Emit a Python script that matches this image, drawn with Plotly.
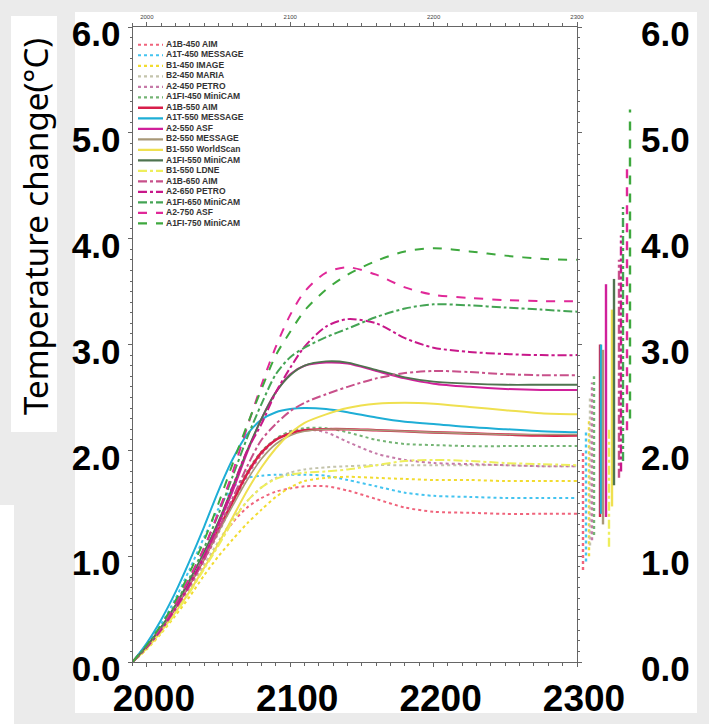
import plotly.graph_objects as go

W, H = 709, 724

# ---------------- data ----------------
years = [1990, 2000, 2010, 2020, 2030, 2040, 2050, 2060, 2070, 2080, 2090, 2100,
         2110, 2125, 2140, 2160, 2180, 2200, 2225, 2250, 2275, 2300]

names = ["A1B-450 AIM", "A1T-450 MESSAGE", "B1-450 IMAGE", "B2-450 MARIA", "A2-450 PETRO",
         "A1FI-450 MiniCAM", "A1B-550 AIM", "A1T-550 MESSAGE", "A2-550 ASF", "B2-550 MESSAGE",
         "B1-550 WorldScan", "A1FI-550 MiniCAM", "B1-550 LDNE", "A1B-650 AIM", "A2-650 PETRO",
         "A1FI-650 MiniCAM", "A2-750 ASF", "A1FI-750 MiniCAM"]

a1b_450 = [0, 0.14, 0.30, 0.48, 0.68, 0.90, 1.12, 1.32, 1.46, 1.55, 1.61, 1.64, 1.66, 1.66, 1.62, 1.54, 1.46, 1.42, 1.41, 1.40, 1.40, 1.40]
a1t_450 = [0, 0.17, 0.36, 0.60, 0.88, 1.18, 1.45, 1.65, 1.74, 1.76, 1.77, 1.77, 1.77, 1.76, 1.72, 1.66, 1.60, 1.57, 1.56, 1.55, 1.55, 1.55]
b1_450 = [0, 0.12, 0.27, 0.44, 0.62, 0.82, 1.00, 1.16, 1.31, 1.44, 1.56, 1.65, 1.71, 1.74, 1.75, 1.74, 1.73, 1.72, 1.72, 1.71, 1.71, 1.71]
b2_450 = [0, 0.14, 0.30, 0.49, 0.70, 0.92, 1.14, 1.35, 1.52, 1.65, 1.74, 1.79, 1.82, 1.84, 1.85, 1.86, 1.86, 1.86, 1.86, 1.86, 1.85, 1.85]
a2_450 = [0, 0.14, 0.30, 0.50, 0.72, 0.96, 1.22, 1.50, 1.76, 1.96, 2.10, 2.18, 2.20, 2.17, 2.08, 1.97, 1.91, 1.88, 1.87, 1.86, 1.85, 1.85]
a1fi_450 = [0, 0.15, 0.32, 0.53, 0.76, 1.00, 1.27, 1.55, 1.80, 1.99, 2.11, 2.18, 2.21, 2.21, 2.17, 2.10, 2.06, 2.05, 2.04, 2.04, 2.04, 2.04]
a1b_550 = [0, 0.15, 0.32, 0.52, 0.74, 0.98, 1.25, 1.52, 1.78, 1.98, 2.10, 2.16, 2.19, 2.20, 2.20, 2.19, 2.18, 2.17, 2.16, 2.15, 2.14, 2.14]
a1t_550 = [0, 0.18, 0.40, 0.66, 0.96, 1.28, 1.62, 1.92, 2.15, 2.29, 2.36, 2.39, 2.40, 2.39, 2.36, 2.31, 2.27, 2.25, 2.22, 2.20, 2.18, 2.17]
a2_550 = [0, 0.14, 0.31, 0.51, 0.74, 1.00, 1.30, 1.62, 1.98, 2.30, 2.55, 2.72, 2.80, 2.83, 2.82, 2.75, 2.68, 2.63, 2.60, 2.58, 2.57, 2.57]
b2_550 = [0, 0.15, 0.32, 0.52, 0.74, 0.98, 1.23, 1.48, 1.72, 1.92, 2.06, 2.14, 2.18, 2.20, 2.20, 2.19, 2.18, 2.17, 2.16, 2.15, 2.15, 2.15]
b1_550_ws = [0, 0.13, 0.29, 0.47, 0.67, 0.89, 1.12, 1.37, 1.62, 1.84, 2.02, 2.16, 2.26, 2.34, 2.40, 2.44, 2.45, 2.44, 2.41, 2.38, 2.35, 2.34]
a1fi_550 = [0, 0.15, 0.33, 0.54, 0.78, 1.04, 1.33, 1.66, 2.00, 2.30, 2.55, 2.71, 2.80, 2.84, 2.83, 2.76, 2.69, 2.65, 2.63, 2.62, 2.62, 2.62]
b1_550_ldne = [0, 0.13, 0.28, 0.46, 0.66, 0.88, 1.10, 1.33, 1.52, 1.65, 1.73, 1.77, 1.79, 1.80, 1.82, 1.86, 1.90, 1.91, 1.90, 1.88, 1.87, 1.86]
a1b_650 = [0, 0.14, 0.30, 0.50, 0.72, 0.97, 1.25, 1.55, 1.85, 2.10, 2.25, 2.37, 2.45, 2.53, 2.60, 2.68, 2.73, 2.75, 2.74, 2.72, 2.71, 2.71]
a2_650 = [0, 0.14, 0.31, 0.51, 0.74, 1.00, 1.31, 1.66, 2.00, 2.25, 2.55, 2.78, 2.98, 3.17, 3.24, 3.20, 3.06, 2.97, 2.93, 2.91, 2.90, 2.90]
a1fi_650 = [0, 0.15, 0.33, 0.55, 0.80, 1.08, 1.40, 1.76, 2.12, 2.44, 2.72, 2.88, 2.97, 3.07, 3.15, 3.26, 3.34, 3.38, 3.37, 3.35, 3.33, 3.31]
a2_750 = [0, 0.15, 0.33, 0.55, 0.80, 1.08, 1.42, 1.80, 2.22, 2.62, 2.98, 3.28, 3.50, 3.68, 3.73, 3.66, 3.54, 3.47, 3.44, 3.42, 3.41, 3.41]
a1fi_750 = [0, 0.16, 0.35, 0.58, 0.85, 1.15, 1.50, 1.88, 2.24, 2.58, 2.90, 3.12, 3.32, 3.52, 3.66, 3.79, 3.88, 3.91, 3.88, 3.84, 3.81, 3.80]

series = [a1b_450, a1t_450, b1_450, b2_450, a2_450, a1fi_450, a1b_550, a1t_550, a2_550,
          b2_550, b1_550_ws, a1fi_550, b1_550_ldne, a1b_650, a2_650, a1fi_650, a2_750, a1fi_750]

# ranges in 2300 (right-hand bars)
bar_low = [0.87, 0.95, 1.00, 1.10, 1.15, 1.20, 1.37, 1.40, 1.37, 1.30, 1.47, 1.67, 1.09, 1.74, 1.80, 1.90, 2.19, 2.30]
bar_high = [2.00, 2.18, 2.30, 2.50, 2.64, 2.70, 3.00, 3.00, 3.57, 2.95, 3.33, 3.62, 2.20, 3.80, 4.03, 4.30, 4.73, 5.22]
bar_slot = [5, 8, 11, 12, 14, 16, 22, 23, 28, 25, 34, 36, 31, 41, 43, 45, 49, 52]

y_ticks = [0, 1, 2, 3, 4, 5, 6]
y_ticktext = ["0.0", "1.0", "2.0", "3.0", "4.0", "5.0", "6.0"]
x_ticks = [2000, 2100, 2200, 2300]
x_ticktext = ["2000", "2100", "2200", "2300"]

# ---------------- styles ----------------
colors = ["#f0647c", "#44c4f0", "#f2dc30", "#c4c4ac", "#c67aa8", "#74b474",
          "#d81e4a", "#1eaed6", "#d0209a", "#a89878", "#efe050", "#4f744f",
          "#eeee5c", "#c8508a", "#c8188a", "#44a454", "#e02898", "#3ea83e"]
dashes = ["dot"] * 6 + ["solid"] * 6 + ["dashdot"] * 4 + ["dash"] * 2
widths = [2, 2, 2, 2, 2, 2, 2.6, 2, 2, 1.6, 2, 1.8, 2, 2, 2, 2, 2, 2]


def px(p):
    return p / W


def py(p):
    return 1 - p / H


fig = go.Figure()

for i, name in enumerate(names):
    fig.add_trace(go.Scatter(
        x=years, y=series[i], mode="lines", name=name,
        line=dict(color=colors[i], dash=dashes[i], width=widths[i], shape="spline", smoothing=0.8),
        xaxis="x", yaxis="y", showlegend=False))

# right-hand range bars
for i, name in enumerate(names):
    fig.add_trace(go.Scatter(
        x=[bar_slot[i], bar_slot[i]], y=[bar_low[i], bar_high[i]], mode="lines",
        line=dict(color=colors[i], dash=dashes[i], width=2.4),
        xaxis="x3", yaxis="y", showlegend=False, hoverinfo="skip"))

# compact legend drawn in its own small subplot
for i, name in enumerate(names):
    fig.add_trace(go.Scatter(
        x=[3, 28], y=[i, i], mode="lines",
        line=dict(color=colors[i], dash=dashes[i], width=2.6 if i == 6 else 2.2),
        xaxis="x4", yaxis="y4", showlegend=False, hoverinfo="skip"))
fig.add_trace(go.Scatter(
    x=[31] * len(names), y=list(range(len(names))), mode="text", text=names,
    textposition="middle right",
    textfont=dict(size=8.5, color="#333333", family="Liberation Sans", weight="bold"),
    xaxis="x4", yaxis="y4", showlegend=False, hoverinfo="skip", cliponaxis=False))

# empty traces so the label-only axes (right values, top years) are drawn
fig.add_trace(go.Scatter(x=[], y=[], xaxis="x5", yaxis="y5", showlegend=False, hoverinfo="skip"))
fig.add_trace(go.Scatter(x=[], y=[], xaxis="x6", yaxis="y6", showlegend=False, hoverinfo="skip"))

axis_col = "#666666"
big_font = dict(family="Liberation Sans", size=35, color="black", weight="bold")
main_x_dom = [px(132.5), px(577)]
main_y_dom = [py(662), py(27)]
y_range = [0, 6.0005]

fig.update_layout(
    width=W, height=H, autosize=False,
    margin=dict(l=0, r=0, t=0, b=0),
    template="none",
    paper_bgcolor="#ebebeb",
    plot_bgcolor="white",
    showlegend=False,
    # main frame
    xaxis=dict(domain=main_x_dom, range=[1990, 2300], anchor="y",
               showline=True, linecolor=axis_col, linewidth=1, mirror="ticks",
               ticks="outside", ticklen=4, tickcolor=axis_col,
               tickvals=x_ticks, ticktext=x_ticktext,
               tickfont=dict(family="Liberation Sans", size=37, color="black", weight="bold"),
               ticklabelshift=7, ticklabelstandoff=0,
               minor=dict(ticks="outside", ticklen=3, dtick=10, tick0=1990, tickcolor=axis_col),
               showgrid=False, zeroline=False, automargin=False),
    yaxis=dict(domain=main_y_dom, range=y_range, anchor="x",
               showline=True, linecolor=axis_col, linewidth=1, mirror="ticks",
               ticks="outside", ticklen=4, tickcolor=axis_col,
               tickvals=y_ticks, ticktext=y_ticktext, tickfont=big_font,
               ticklabelshift=7,
               minor=dict(ticks="outside", ticklen=2, dtick=0.1, tick0=0, tickcolor=axis_col),
               showgrid=False, zeroline=False, automargin=False),
    # range-bar strip to the right of the frame
    xaxis3=dict(domain=[px(578), px(638)], range=[0, 60], anchor="y", visible=False,
                showgrid=False, zeroline=False),
    # legend strip
    xaxis4=dict(domain=[px(135), px(300)], range=[0, 165], anchor="y4", visible=False,
                showgrid=False, zeroline=False),
    yaxis4=dict(domain=[py(228.7), py(39.5)], range=[17.5, -0.5], anchor="x4", visible=False,
                showgrid=False, zeroline=False),
    # right-hand value labels
    xaxis5=dict(domain=[px(638.5), px(640)], range=[0, 1], anchor="y5", visible=False,
                showgrid=False, zeroline=False),
    yaxis5=dict(domain=main_y_dom, range=y_range, anchor="x5", side="right",
                showline=False, ticks="", tickvals=y_ticks, ticktext=y_ticktext,
                tickfont=big_font, ticklabelshift=7,
                showgrid=False, zeroline=False, automargin=False),
    # small year labels along the top
    xaxis6=dict(domain=main_x_dom, range=[1990, 2300], anchor="y6", side="top",
                showline=False, ticks="",
                tickvals=x_ticks, ticktext=x_ticktext,
                tickfont=dict(family="Liberation Sans", size=6, color="#444444"),
                showgrid=False, zeroline=False, automargin=False),
    yaxis6=dict(domain=[py(22), py(21)], range=[0, 1], anchor="x6", visible=False,
                showgrid=False, zeroline=False),
    shapes=[
        dict(type="rect", xref="paper", yref="paper", x0=px(75), x1=px(697), y0=py(713), y1=py(12),
             fillcolor="white", line=dict(width=0), layer="below"),
        dict(type="rect", xref="paper", yref="paper", x0=px(11), x1=px(57), y0=py(432), y1=py(16),
             fillcolor="white", line=dict(width=0), layer="below"),
        dict(type="rect", xref="paper", yref="paper", x0=px(0), x1=px(14), y0=py(724), y1=py(505),
             fillcolor="white", line=dict(width=0), layer="below"),
    ],
    annotations=[
        dict(text="Temperature change(°C)", xref="paper", yref="paper",
             x=px(35), y=py(227), textangle=-90, showarrow=False,
             font=dict(family="Noto Sans", size=33, color="black"),
             xanchor="center", yanchor="middle"),
    ],
)

fig.write_html("out.html", config={"displayModeBar": False},
               post_script="document.body.style.margin='0';")
